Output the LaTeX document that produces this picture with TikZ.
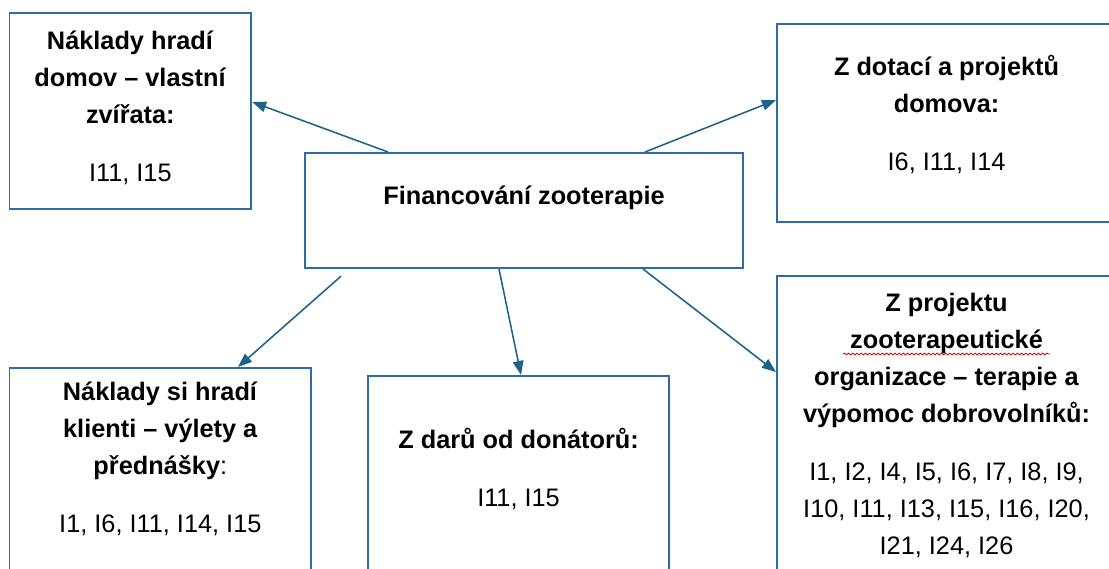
\documentclass[tikz,border=0pt]{standalone}
\usepackage{fontspec}
\setmainfont{Liberation Sans}
\usepackage{tikz}
\usetikzlibrary{arrows.meta,positioning,decorations.pathmorphing}
\definecolor{boxblue}{RGB}{47,108,166}
\definecolor{arrowblue}{RGB}{30,98,138}

\begin{document}
\begin{tikzpicture}[
  x=0.025cm, y=-0.025cm,
  box/.style={rectangle,draw=boxblue,line width=1.4pt,inner sep=0pt,anchor=north west},
  txt/.style={inner sep=0pt,align=center,font=\fontsize{18}{26.3}\selectfont},
  arr/.style={-{Triangle[length=10pt,width=7.5pt]},draw=arrowblue,line width=1.1pt}
]
  \useasboundingbox (0,0) rectangle (1109,569);
  \clip (0,0) rectangle (1109,569);

  % boxes
  \node[box,minimum width=6.04cm,minimum height=4.9cm] (own) at (8.5,12) {};
  \node[box,minimum width=10.95cm,minimum height=2.875cm] (ctr) at (304,152) {};
  \node[box,minimum width=8.475cm,minimum height=4.95cm] (grant) at (776,23) {};
  \node[box,minimum width=7.54cm,minimum height=5.9cm] (client) at (8.5,367) {};
  \node[box,minimum width=7.525cm,minimum height=5.7cm] (gift) at (367,375) {};
  \node[box,minimum width=8.475cm,minimum height=8.2cm] (proj) at (776,275) {};

  % texts
  \node[txt,below=0.4625cm of own.north] (ownt)
    {\textbf{Náklady hradí}\\\textbf{domov – vlastní}\\\textbf{zvířata:}\\[15pt]I11, I15};
  \node[txt,below=0.8375cm of ctr.north] (ctrt) {\textbf{Financování zooterapie}};
  \node[txt,below=0.7875cm of grant.north] (grantt)
    {\textbf{Z dotací a projektů}\\\textbf{domova:}\\[15pt]I6, I11, I14};
  \node[txt,below=0.3625cm of client.north] (clientt)
    {\textbf{Náklady si hradí}\\\textbf{klienti – výlety a}\\\textbf{přednášky}:\\[15pt]I1, I6, I11, I14, I15};
  \node[txt,below=1.3125cm of gift.north] (giftt)
    {\textbf{Z darů od donátorů:}\\[15pt]I11, I15};
  \node[txt,below=0.45cm of proj.north] (projt)
    {\textbf{Z projektu}\\\textbf{zooterapeutické}\\\textbf{organizace – terapie a}\\\textbf{výpomoc dobrovolníků:}\\[15pt]%
     I1, I2, I4, I5, I6, I7, I8, I9,\\I10, I11, I13, I15, I16, I20,\\I21, I24, I26};

  % spelling mark
  \draw[red!85!black,line width=0.6pt,decorate,decoration={snake,amplitude=0.6pt,segment length=3pt}]
    (843,354) -- (1050,354);

  % arrows
  \draw[arr] (388,0 |- ctr.north) -- (own.east |- 0,102);
  \draw[arr] (645,0 |- ctr.north) -- (grant.west |- 0,100);
  \draw[arr] ([yshift=-0.18cm]341,0 |- ctr.south) -- (238,0 |- client.north);
  \draw[arr] (499,0 |- ctr.south) -- (521,0 |- gift.north);
  \draw[arr] (643,0 |- ctr.south) -- (proj.west |- 0,372);
\end{tikzpicture}
\end{document}
